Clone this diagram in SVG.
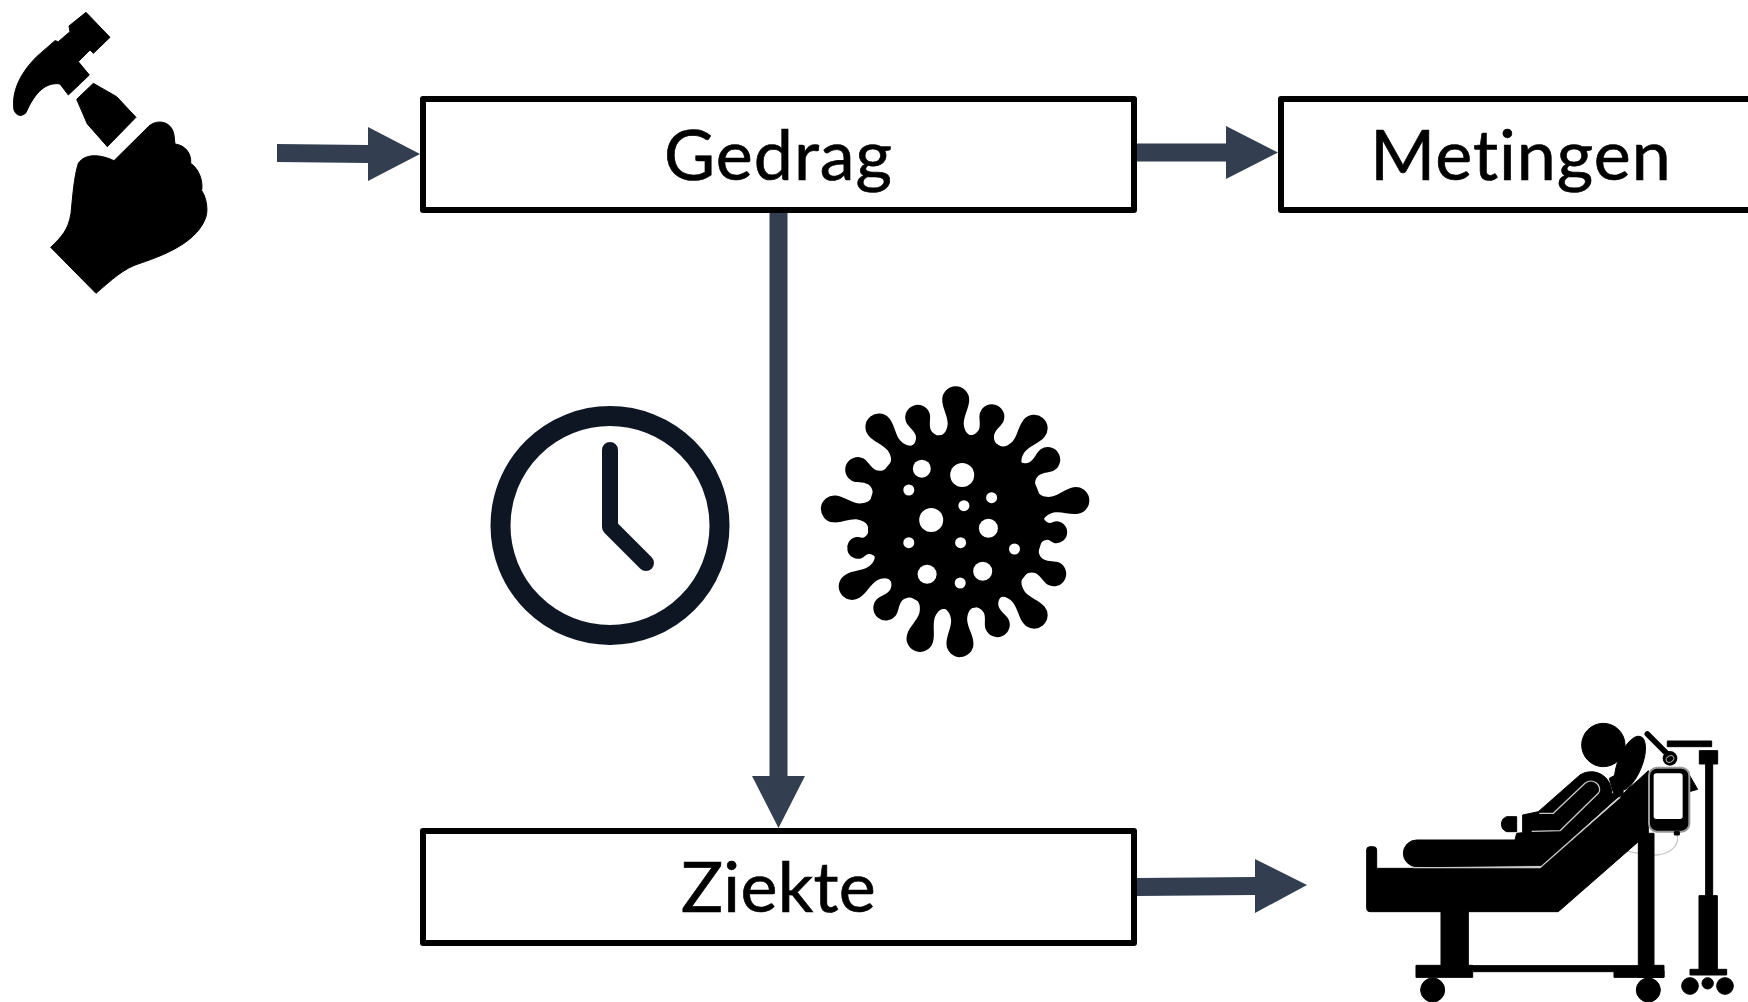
<svg xmlns="http://www.w3.org/2000/svg" xmlns:xlink="http://www.w3.org/1999/xlink" width="1748" height="1002" viewBox="0 0 1748 1002">
<style>
.box{fill:#fff;stroke:#000;stroke-width:6;stroke-linejoin:round}
.lbl{font-family:"Lato","Noto Sans",sans-serif;font-size:70px;fill:#000;stroke:#000;stroke-width:.7;text-anchor:middle;letter-spacing:1px;font-variant-ligatures:none}
.arrow{fill:#333f50;stroke:none}
.blk{fill:#000;stroke:#000;stroke-width:3;stroke-linejoin:round}
.hole{fill:#fff}
.gl{fill:none;stroke:#c8c8c8;stroke-width:4}
.soft{filter:url(#soft)}
</style>
<defs>
<filter id="soft" x="-5%" y="-5%" width="110%" height="110%"><feGaussianBlur stdDeviation="0.7"/></filter>
<path id="spikeL" d="M-16,-80 L-16,-86 C-11,-87 -8.500,-92 -8,-98 C-8,-106 -13.500,-114 -13.500,-122 A13.500,13.500 0 0 1 13.500,-122 C13.500,-114 8,-106 8,-98 C8.500,-92 11,-87 16,-86 L16,-80 Z"/>
<path id="spikeM" d="M-16,-80 L-16,-86 C-11,-87 -8.500,-91 -8,-95 C-8,-101 -12.500,-106 -12.500,-111 A12.500,12.500 0 0 1 12.500,-111 C12.500,-106 8,-101 8,-95 C8.500,-91 11,-87 16,-86 L16,-80 Z"/>
<path id="spikeS" d="M-16,-80 L-16,-86 C-11,-87 -9,-90 -8.500,-93 C-8.500,-96 -11,-98 -11,-101 A11,11 0 0 1 11,-101 C11,-98 8.500,-96 8.500,-93 C9,-90 11,-87 16,-86 L16,-80 Z"/>
</defs>
<rect width="1748" height="1002" fill="#fff"/>
<g id="node-gedrag">
<rect class="box" x="423" y="99" width="711" height="111"/>
<text class="lbl" x="778.5" y="180">Gedrag</text>
</g>
<g id="node-metingen">
<rect class="box" x="1281" y="99" width="480" height="111"/>
<text class="lbl" x="1521" y="180">Metingen</text>
</g>
<g id="node-ziekte">
<rect class="box" x="423" y="831" width="711" height="112"/>
<text class="lbl" x="778.500" y="912" style="letter-spacing:.3px">Ziekte</text>
</g>
<g id="connectors">
<polygon class="arrow" points="277,144 368,145 368,127 420,154 368,181 368,163 277,162"/>
<polygon class="arrow" points="1137,143.500 1226,143.500 1226,126 1278,152.500 1226,179 1226,161.500 1137,161.500"/>
<polygon class="arrow" points="769.500,213 787.500,213 787.500,776 805,776 778.500,828 752,776 769.500,776"/>
<polygon class="arrow" points="1137,878 1255,877 1255,859 1307,885 1255,913 1255,895 1137,896"/>
</g>
<g id="node-hammer" class="soft">
<g transform="scale(.33333)">
<path class="blk" d="M258,37 L330,112 L280,160 L270,150 L235,185 L268,225 L205,285 L180,252 C140,245 105,275 78,338 C65,350 50,350 42,330 C35,280 55,225 110,170 L165,122 L175,125 L210,95 L207,78 Z"/>
<path class="blk" d="M280,250 L350,290 L408,352 L322,440 L262,372 L230,298 Z"/>
<path class="blk" d="M342,482 L440,385 C465,355 515,360 522,405 L525,432 C555,435 575,460 572,490 C595,505 610,540 605,572 C618,590 625,625 618,650 C595,720 510,760 420,790 C370,805 335,840 288,880 L152,742 C185,710 205,690 213,640 C218,590 222,530 235,490 C255,460 300,462 342,482 Z"/>
</g>
</g>
<g id="node-clock" class="soft">
<circle cx="610" cy="525.500" r="109.500" fill="none" stroke="#0e1723" stroke-width="20"/>
<path d="M610,450 L610,527 L646,563" fill="none" stroke="#0e1723" stroke-width="16" stroke-linecap="round" stroke-linejoin="round"/>
</g>
<g id="node-virus" class="soft">
<circle cx="955.700" cy="521.700" r="88"/>
<g transform="translate(955.700,521.700)">
<use xlink:href="#spikeL" href="#spikeL" transform="rotate(0)"/>
<use xlink:href="#spikeM" href="#spikeM" transform="rotate(19)"/>
<use xlink:href="#spikeL" href="#spikeL" transform="rotate(40)"/>
<use xlink:href="#spikeM" href="#spikeM" transform="rotate(56)"/>
<use xlink:href="#spikeL" href="#spikeL" transform="rotate(80)"/>
<use xlink:href="#spikeS" href="#spikeS" transform="rotate(96)"/>
<use xlink:href="#spikeM" href="#spikeM" transform="rotate(118)"/>
<use xlink:href="#spikeL" href="#spikeL" transform="rotate(140)"/>
<use xlink:href="#spikeM" href="#spikeM" transform="rotate(158)"/>
<use xlink:href="#spikeL" href="#spikeL" transform="rotate(178)"/>
<use xlink:href="#spikeL" href="#spikeL" transform="rotate(197)"/>
<use xlink:href="#spikeM" href="#spikeM" transform="rotate(219)"/>
<use xlink:href="#spikeL" href="#spikeL" transform="rotate(238)"/>
<use xlink:href="#spikeS" href="#spikeS" transform="rotate(255)"/>
<use xlink:href="#spikeL" href="#spikeL" transform="rotate(276)"/>
<use xlink:href="#spikeM" href="#spikeM" transform="rotate(298)"/>
<use xlink:href="#spikeL" href="#spikeL" transform="rotate(321)"/>
<use xlink:href="#spikeM" href="#spikeM" transform="rotate(340)"/>
</g>
<circle class="hole" cx="921.800" cy="468.700" r="9"/>
<circle class="hole" cx="962.200" cy="475" r="12"/>
<circle class="hole" cx="908.800" cy="490" r="5.500"/>
<circle class="hole" cx="991.600" cy="497.700" r="5.500"/>
<circle class="hole" cx="963.900" cy="505.700" r="5.500"/>
<circle class="hole" cx="931.200" cy="520" r="12"/>
<circle class="hole" cx="988.400" cy="528.300" r="9.500"/>
<circle class="hole" cx="908.800" cy="542.700" r="5.500"/>
<circle class="hole" cx="960.600" cy="542.700" r="5.500"/>
<circle class="hole" cx="1014.500" cy="549" r="5.500"/>
<circle class="hole" cx="927.100" cy="574.300" r="9.500"/>
<circle class="hole" cx="982.700" cy="571.300" r="9.500"/>
<circle class="hole" cx="960.200" cy="583" r="5.500"/>
</g>
<g id="node-patient" class="soft">
<g transform="translate(1340,700) scale(.33333)">
<path class="gl" d="M1010,402 C1022,430 995,462 950,465 C920,466 890,460 855,452"/>
<path class="blk" d="M80,450 Q80,440 90,440 L100,440 Q110,440 110,450 L110,505 L600,505 L840,295 L860,270 L895,240 L925,212 L925,400 L895,425 L655,635 L90,635 Q80,635 80,625 Z"/>
<ellipse class="blk" cx="870" cy="190" rx="36" ry="86" transform="rotate(22 870 190)"/>
<polygon class="blk" points="808,235 845,215 850,285 825,295"/>
<circle class="blk" cx="790" cy="135" r="65"/>
<path class="blk" d="M595,335 L720,225 C760,200 815,225 815,280 L835,290 L605,497 L230,500 A40,40 0 0 1 230,420 L525,420 L530,400 L548,398 L548,345 Z"/>
<path class="blk" d="M530,350 L500,350 A24,24 0 0 0 500,395 L530,395 Z"/>
<path class="gl" d="M220,503 L600,503 L840,292"/>
<path class="gl" stroke-linejoin="round" d="M598,340 L640,340 L735,250 C760,230 790,260 775,280 L660,392 L575,394"/>
<rect class="blk" x="303" y="630" width="82" height="170"/>
<rect class="blk" x="385" y="797" width="510" height="18"/>
<rect class="blk" x="228" y="796" width="170" height="36"/>
<rect class="blk" x="822" y="812" width="150" height="20"/>
<rect class="blk" x="895" y="400" width="47" height="432"/>
<rect class="blk" x="895" y="796" width="77" height="36"/>
<circle class="blk" cx="278" cy="870" r="36"/>
<circle class="blk" cx="925" cy="870" r="36"/>
<rect class="blk" x="982" y="123" width="133" height="17"/>
<rect class="blk" x="1078" y="152" width="55" height="40"/>
<rect class="blk" x="1097" y="190" width="21" height="400"/>
<rect class="blk" x="1077" y="587" width="55" height="225"/>
<rect class="blk" x="1050" y="808" width="110" height="17"/>
<circle class="blk" cx="1050" cy="858" r="25"/>
<circle class="blk" cx="1103" cy="850" r="17"/>
<circle class="blk" cx="1155" cy="858" r="25"/>
<polygon class="blk" points="1048,225 1073,268 1048,275"/>
<path d="M922,102 L985,165" stroke="#000" stroke-width="17" stroke-linecap="round"/>
<circle cx="990" cy="175" r="22" fill="#000"/>
<ellipse cx="990" cy="177" rx="12" ry="9" fill="none" stroke="#aaa" stroke-width="3" transform="rotate(-30 990 177)"/>
<rect x="927" y="203" width="121" height="192" rx="24" fill="#000" stroke="#999" stroke-width="6"/>
<rect x="941" y="220" width="87" height="137" rx="8" fill="#fff"/>
<rect class="blk" x="1003" y="395" width="15" height="10"/>
</g>
</g>
</svg>
